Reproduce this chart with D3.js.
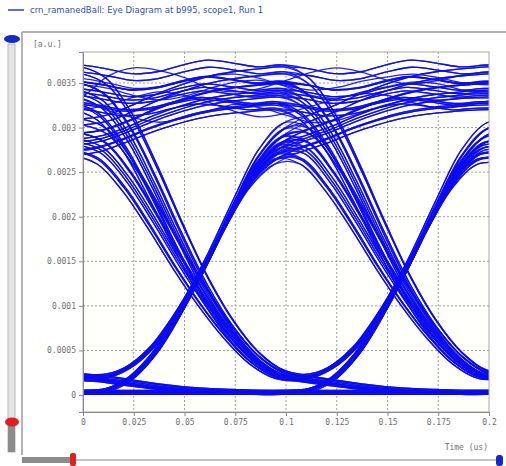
<!DOCTYPE html>
<html lang="en">
<head>
<meta charset="UTF-8">
<title>Eye Diagram</title>
<style>
  body { margin: 0; background: #fff; overflow: hidden; }
  svg text { font-family: "DejaVu Sans Mono", monospace; }
</style>
</head>
<body>
<script src="https://d3js.org/d3.v7.min.js"></script>
<script>
const titleText = 'crn_ramanedBall: Eye Diagram at b995, scope1, Run 1';
const yUnit = '[a.u.]';
const xTitle = 'Time (us)';

const xTicks = [0, 0.025, 0.05, 0.075, 0.1, 0.125, 0.15, 0.175, 0.2];
const xTickLabels = ['0', '0.025', '0.05', '0.075', '0.1', '0.125', '0.15', '0.175', '0.2'];
const yTicks = [0, 0.0005, 0.001, 0.0015, 0.002, 0.0025, 0.003, 0.0035];
const yTickLabels = ['0', '0.0005', '0.001', '0.0015', '0.002', '0.0025', '0.003', '0.0035'];

// sample times of a trace (us); one bit = 8 steps
const sampleTimes = [0, 0.0125, 0.025, 0.0375, 0.05, 0.0625, 0.075, 0.0875, 0.1,
  0.1125, 0.125, 0.1375, 0.15, 0.1625, 0.175, 0.1875, 0.2];

// one-bit pieces, 9 samples each, values in 1e-3 a.u.
// name = transition, digit = level of the bit before
const low0  = [0.02, 0.02, 0.02, 0.02, 0.02, 0.02, 0.02, 0.02, 0.02];
const low1  = [0.19, 0.17, 0.13, 0.09, 0.06, 0.04, 0.03, 0.02, 0.02];
const rise0 = [0.02, 0.04, 0.16, 0.44, 0.88, 1.40, 1.96, 2.46, 2.74];
const rise1 = [0.19, 0.19, 0.30, 0.54, 0.94, 1.44, 2.00, 2.52, 2.80];
const fall0 = [2.84, 2.74, 2.42, 1.98, 1.50, 1.06, 0.68, 0.38, 0.21];
const fall1 = [3.38, 3.26, 2.90, 2.36, 1.76, 1.20, 0.75, 0.42, 0.23];
const high0 = [2.84, 2.88, 2.98, 3.10, 3.20, 3.28, 3.33, 3.36, 3.38];
const high1 = [3.40, 3.36, 3.31, 3.33, 3.40, 3.45, 3.42, 3.38, 3.40];

// bit patterns (bit before, bit 0, bit 1, bit 2)
const bitPatterns = ['0000', '0001', '0010', '0011', '0100', '0101', '0110', '0111',
  '1000', '1001', '1010', '1011', '1100', '1101', '1110', '1111'];

// spread of the repeated traces
const traceGain  = [1.0, 1.03, 0.97, 1.06, 0.95, 1.01, 0.99, 1.08, 0.96, 1.04];
const traceLift  = [0, 0.012, -0.008, 0.02, -0.012, 0.005, -0.004, 0.03, 0.008, -0.015];
const traceDelay = [-0.003, -0.0015, -0.0045, -0.0005, -0.0055, -0.0025, -0.0035, -0.001, -0.005, -0.002];

// a few ringing traces on the high level (1e-3 a.u.)
const waveA = [3.36, 3.58, 3.67, 3.64, 3.56, 3.44, 3.40, 3.44, 3.53, 3.62, 3.67, 3.62, 3.53, 3.49, 3.53, 3.59, 3.62];
const waveB = [3.31, 3.19, 3.11, 3.06, 3.11, 3.19, 3.26, 3.22, 3.14, 3.06, 3.08, 3.17, 3.26, 3.31, 3.31, 3.33, 3.33];
const waveC = [3.48, 3.44, 3.36, 3.31, 3.35, 3.44, 3.51, 3.53, 3.46, 3.36, 3.33, 3.40, 3.46, 3.51, 3.49, 3.42, 3.40];
const waveD = [3.20, 3.26, 3.34, 3.40, 3.36, 3.28, 3.18, 3.12, 3.16, 3.24, 3.32, 3.38, 3.36, 3.28, 3.22, 3.24, 3.30];
const waveE = [3.55, 3.50, 3.44, 3.46, 3.52, 3.58, 3.60, 3.55, 3.47, 3.42, 3.45, 3.52, 3.57, 3.60, 3.56, 3.50, 3.48];

const pieces = {
  '000': low0, '100': low1, '001': rise0, '101': rise1,
  '010': fall0, '110': fall1, '011': high0, '111': high1
};

const W = 506, H = 466;
const plot = { left: 83, right: 489, top: 52, bottom: 412 };

const svg = d3.select('body').append('svg')
  .attr('width', W)
  .attr('height', H);

const x = d3.scaleLinear().domain([0, 0.2]).range([plot.left, plot.right]);
const y = d3.scaleLinear().domain([-0.000191, 0.003848]).range([plot.bottom, plot.top]);

// title line
svg.append('line')
  .attr('x1', 8).attr('x2', 24).attr('y1', 10).attr('y2', 10)
  .attr('stroke', '#2a3fc0').attr('stroke-width', 1.5);
svg.append('text')
  .attr('x', 30).attr('y', 13)
  .attr('font-size', 8.5)
  .attr('fill', '#3550b0')
  .style('font-family', '"DejaVu Sans", sans-serif')
  .text(titleText);

// window frame
svg.append('line').attr('x1', 22).attr('x2', W).attr('y1', 32).attr('y2', 32)
  .attr('stroke', '#9a9a9a').attr('stroke-width', 1.5);
svg.append('line').attr('x1', 22).attr('x2', 22).attr('y1', 32).attr('y2', 455)
  .attr('stroke', '#9a9a9a').attr('stroke-width', 1.5);

// left slider
svg.append('rect').attr('x', 8).attr('y', 44).attr('width', 7).attr('height', 408)
  .attr('fill', '#e4e4e4').attr('stroke', '#b8b8b8');
svg.append('rect').attr('x', 8).attr('y', 426).attr('width', 7).attr('height', 26)
  .attr('fill', '#8c8c8c');
svg.append('ellipse').attr('cx', 12).attr('cy', 39).attr('rx', 8).attr('ry', 4)
  .attr('fill', '#1428c8');
svg.append('ellipse').attr('cx', 12).attr('cy', 422).attr('rx', 7).attr('ry', 4.5)
  .attr('fill', '#e02020');

// bottom slider
svg.append('line').attr('x1', 22).attr('x2', 500).attr('y1', 460).attr('y2', 460)
  .attr('stroke', '#c4c4c4').attr('stroke-width', 2);
svg.append('rect').attr('x', 22).attr('y', 457).attr('width', 48).attr('height', 6)
  .attr('fill', '#8c8c8c');
svg.append('rect').attr('x', 70).attr('y', 453).attr('width', 6).attr('height', 13)
  .attr('rx', 2).attr('fill', '#e02020');
svg.append('rect').attr('x', 496).attr('y', 455).attr('width', 7).attr('height', 11)
  .attr('rx', 3).attr('fill', '#1428c8');

// plot background
svg.append('rect')
  .attr('x', plot.left).attr('y', plot.top)
  .attr('width', plot.right - plot.left).attr('height', plot.bottom - plot.top)
  .attr('fill', '#fffffb');

// grid
const grid = svg.append('g').attr('stroke', '#a0a0a0').attr('stroke-dasharray', '2,2');
grid.selectAll('line.h').data(yTicks.slice(1)).join('line')
  .attr('class', 'h')
  .attr('x1', plot.left).attr('x2', plot.right)
  .attr('y1', d => y(d)).attr('y2', d => y(d));
grid.selectAll('line.v').data(xTicks.slice(1, -1)).join('line')
  .attr('class', 'v')
  .attr('x1', d => x(d)).attr('x2', d => x(d))
  .attr('y1', plot.top).attr('y2', plot.bottom);

// traces
svg.append('clipPath').attr('id', 'clip')
  .append('rect')
  .attr('x', plot.left).attr('y', plot.top)
  .attr('width', plot.right - plot.left).attr('height', plot.bottom - plot.top);

const traces = [];
bitPatterns.forEach(p => {
  const a = pieces[p.slice(0, 3)];
  const b = pieces[p.slice(1, 4)];
  const vals = a.concat(b.slice(1));
  traceGain.forEach((g, k) => {
    traces.push(vals.map((v, i) => ({
      t: sampleTimes[i] + traceDelay[k],
      v: (v * g + traceLift[k]) * 1e-3
    })));
  });
});
[waveA, waveB, waveC, waveD, waveE].forEach(w => {
  traces.push(w.map((v, i) => ({ t: sampleTimes[i], v: v * 1e-3 })));
});
// stretch the ends past the plot edges
traces.forEach(tr => {
  tr.unshift({ t: -0.01, v: tr[0].v });
  tr.push({ t: 0.21, v: tr[tr.length - 1].v });
});

const line = d3.line()
  .x(d => x(d.t))
  .y(d => y(d.v))
  .curve(d3.curveCatmullRom.alpha(0.5));

svg.append('g')
  .attr('clip-path', 'url(#clip)')
  .selectAll('path')
  .data(traces)
  .join('path')
  .attr('d', line)
  .attr('fill', 'none')
  .attr('stroke', '#0c0cf0')
  .attr('stroke-width', 1.3)
  .attr('opacity', 0.9);

// plot border
svg.append('rect')
  .attr('x', plot.left).attr('y', plot.top)
  .attr('width', plot.right - plot.left).attr('height', plot.bottom - plot.top)
  .attr('fill', 'none').attr('stroke', '#a8a8a8');

// axes
const yAxis = svg.append('g')
  .attr('transform', `translate(${plot.left},0)`)
  .call(d3.axisLeft(y).tickValues(yTicks)
    .tickFormat((d, i) => yTickLabels[i]).tickSize(4).tickPadding(3));
const xAxis = svg.append('g')
  .attr('transform', `translate(0,${plot.bottom})`)
  .call(d3.axisBottom(x).tickValues(xTicks)
    .tickFormat((d, i) => xTickLabels[i]).tickSize(4).tickPadding(3));
[xAxis, yAxis].forEach(ax => {
  ax.select('.domain').attr('stroke', '#8a8a8a');
  ax.selectAll('.tick line').attr('stroke', '#8a8a8a');
  ax.selectAll('.tick text')
    .attr('fill', '#707070')
    .attr('font-size', 8)
    .style('font-family', '"DejaVu Sans Mono", monospace');
});

svg.append('text')
  .attr('x', 33).attr('y', 47)
  .attr('font-size', 8).attr('fill', '#707070')
  .text(yUnit);
svg.append('text')
  .attr('x', 488).attr('y', 450)
  .attr('text-anchor', 'end')
  .attr('font-size', 8).attr('fill', '#707070')
  .text(xTitle);
</script>
</body>
</html>
